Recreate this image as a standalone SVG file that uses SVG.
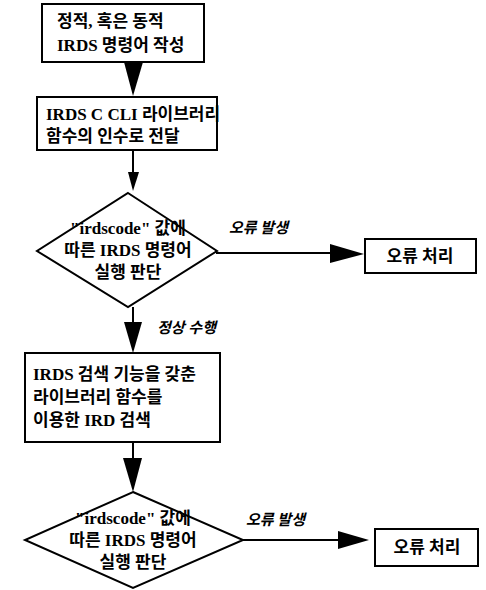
<svg xmlns="http://www.w3.org/2000/svg" width="486" height="590" viewBox="0 0 486 590">
<style>
.box{fill:#fff;stroke:#000;stroke-width:2}
.t{font-family:"Liberation Serif","Noto Sans CJK KR",serif;font-weight:bold;font-size:17px;fill:#000}
.m{text-anchor:middle}
.lbl{font-family:"Liberation Serif","Noto Sans CJK KR",serif;font-weight:bold;font-style:italic;font-size:15px;fill:#000}
.ln{stroke:#000;stroke-width:2;fill:none}
.ah{fill:#000}
</style>
<rect width="486" height="590" fill="#fff"/>
<g id="connectors">
<polygon class="ah" points="124,62 143,62 133,96"/>
<line class="ln" x1="133" y1="150" x2="133" y2="174"/>
<polygon class="ah" points="128,172 139,172 133,191"/>
<line class="ln" x1="216" y1="253" x2="335" y2="253"/>
<polygon class="ah" points="330,244 364,254 330,263"/>
<line class="ln" x1="133" y1="307" x2="133" y2="324"/>
<polygon class="ah" points="124,322 142,322 133,353"/>
<line class="ln" x1="133" y1="442" x2="133" y2="460"/>
<polygon class="ah" points="123,458 142,458 133,492"/>
<line class="ln" x1="243" y1="540" x2="342" y2="540"/>
<polygon class="ah" points="338,531 369,540 338,549"/>
<text class="lbl" x="229" y="233">오류 발생</text>
<text class="lbl" x="157" y="333">정상 수행</text>
<text class="lbl" x="246" y="525">오류 발생</text>
</g>
<g id="n1">
<rect class="box" x="42" y="4" width="162" height="58"/>
<text class="t" x="57" y="27">정적, 혹은 동적</text>
<text class="t" x="57" y="51">IRDS 명령어 작성</text>
</g>
<g id="n2">
<rect class="box" x="37" y="97" width="180" height="53"/>
<text class="t" x="46" y="120">IRDS C CLI 라이브러리</text>
<text class="t" x="46" y="142">함수의 인수로 전달</text>
</g>
<g id="n3">
<polygon class="box" points="128,193 217,251 128,307 37,251"/>
<text class="t m" x="128" y="234">"irdscode" 값에</text>
<text class="t m" x="128" y="256">따른 IRDS 명령어</text>
<text class="t m" x="128" y="278">실행 판단</text>
</g>
<g id="n4">
<rect class="box" x="365" y="239" width="111" height="34"/>
<text class="t m" x="420" y="262">오류 처리</text>
</g>
<g id="n5">
<rect class="box" x="25" y="353" width="195" height="89"/>
<text class="t" x="33" y="380">IRDS 검색 기능을 갖춘</text>
<text class="t" x="33" y="403">라이브러리 함수를</text>
<text class="t" x="33" y="426">이용한 IRD 검색</text>
</g>
<g id="n6">
<polygon class="box" points="133,492 243,540 133,588 25,540"/>
<text class="t m" x="133" y="524">"irdscode" 값에</text>
<text class="t m" x="133" y="546">따른 IRDS 명령어</text>
<text class="t m" x="133" y="568">실행 판단</text>
</g>
<g id="n7">
<rect class="box" x="375" y="529" width="103" height="37"/>
<text class="t m" x="427" y="553">오류 처리</text>
</g>
</svg>
